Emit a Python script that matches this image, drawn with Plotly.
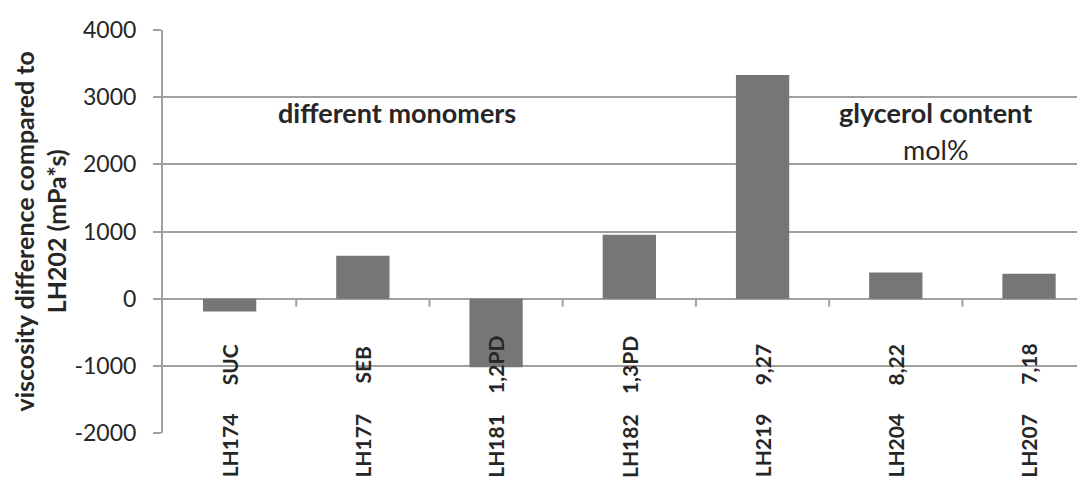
import plotly.graph_objects as go

# ---- data ----
sample_ids = ["LH174", "LH177", "LH181", "LH182", "LH219", "LH204", "LH207"]
sub_labels = ["SUC", "SEB", "1,2PD", "1,3PD", "9,27", "8,22", "7,18"]
viscosity_diff = [-190, 640, -1020, 950, 3330, 390, 370]
y_ticks = [-2000, -1000, 0, 1000, 2000, 3000, 4000]
y_tick_text = ["-2000", "-1000", "0", "1000", "2000", "3000", "4000"]

FONT = "Lato"
GRID = "#a0a0a0"
BAR = "#767676"
TXT = "#262626"

# page is rendered with the default 8px body margin -> compensate
OFF = 8
PLOT_LEFT, PLOT_TOP, PLOT_BOTTOM, PLOT_RIGHT = 163, 30, 433.3, 1085
PLOT_H = PLOT_BOTTOM - PLOT_TOP
PLOT_W = PLOT_RIGHT - PLOT_LEFT

x_pos = list(range(len(sample_ids)))

fig = go.Figure()
fig.add_trace(go.Bar(
    x=x_pos, y=viscosity_diff, width=0.4,
    marker=dict(color=BAR, line=dict(width=0)),
    showlegend=False,
))


def py(pix):
    """paper y for a pixel row of the final picture"""
    return (PLOT_BOTTOM - pix) / PLOT_H


def px(pix):
    """paper x for a pixel column of the final picture"""
    return (pix - PLOT_LEFT) / PLOT_W


# category labels (rotated, sitting below the zero line)
for xi, sid, sub in zip(x_pos, sample_ids, sub_labels):
    fig.add_annotation(x=xi, y=py(446), xref="x", yref="paper", text="<b>%s</b>" % sid,
                       textangle=-90, showarrow=False, xanchor="center", yanchor="middle",
                       font=dict(family=FONT, size=21, color=TXT))
    fig.add_annotation(x=xi, y=py(365), xref="x", yref="paper", text="<b>%s</b>" % sub,
                       textangle=-90, showarrow=False, xanchor="center", yanchor="middle",
                       font=dict(family=FONT, size=21, color=TXT))

# tick marks on the category axis (at zero) between categories
for i in range(len(sample_ids) - 1):
    fig.add_shape(type="line", xref="x", yref="y", x0=i + 0.5, x1=i + 0.5,
                  ysizemode="pixel", yanchor=0, y0=0, y1=-8,
                  line=dict(color=GRID, width=2), layer="above")

# group annotations
fig.add_annotation(x=1.257, y=py(113), xref="x", yref="paper", text="<b>different monomers</b>",
                   showarrow=False, xanchor="center", yanchor="middle",
                   font=dict(family=FONT, size=27, color=TXT))
fig.add_annotation(x=5.30, y=py(113), xref="x", yref="paper", text="<b>glycerol content</b>",
                   showarrow=False, xanchor="center", yanchor="middle",
                   font=dict(family=FONT, size=27, color=TXT))
fig.add_annotation(x=5.30, y=py(150), xref="x", yref="paper", text="mol%",
                   showarrow=False, xanchor="center", yanchor="middle",
                   font=dict(family=FONT, size=27, color=TXT))

# y axis title
fig.add_annotation(x=px(40), y=0.5, xref="paper", yref="paper",
                   text="<b>viscosity difference compared to<br>LH202 (mPa*s)</b>",
                   textangle=-90, showarrow=False, xanchor="center", yanchor="middle",
                   font=dict(family=FONT, size=25, color=TXT))

fig.update_layout(
    width=1085 - OFF, height=480 - OFF,
    margin=dict(l=PLOT_LEFT - OFF, r=0, t=PLOT_TOP - OFF, b=480 - PLOT_BOTTOM),
    paper_bgcolor="white", plot_bgcolor="white",
    bargap=0.6,
    xaxis=dict(range=[-0.5, 6.42], showticklabels=False, showgrid=False,
               zeroline=False, showline=False, ticks=""),
    yaxis=dict(range=[-2000, 4000], tickvals=y_ticks, ticktext=y_tick_text, showgrid=True,
               gridcolor=GRID, gridwidth=1.5, zeroline=True, zerolinecolor=GRID,
               zerolinewidth=2, showline=True, linecolor=GRID, linewidth=2,
               ticks="outside", ticklen=8, tickcolor=GRID, tickwidth=1.5,
               ticklabelstandoff=12,
               tickfont=dict(family=FONT, size=23, color=TXT)),
)

fig.write_html("out.html")
